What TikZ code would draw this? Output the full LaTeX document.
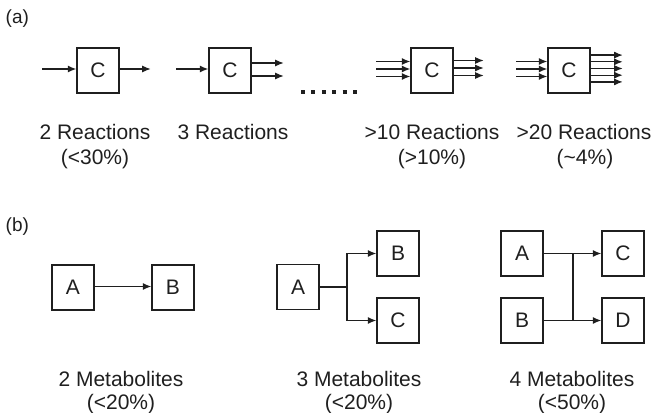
\documentclass[tikz,border=0pt]{standalone}
\usepackage{fontspec}
\setmainfont{Liberation Sans}
\usetikzlibrary{arrows.meta}
\definecolor{ink}{gray}{0.12}
\begin{document}
\begin{tikzpicture}[x=1pt,y=-1pt,
  every node/.style={text=ink},
  box/.style={draw=ink, line width=1.4pt, minimum width=42pt, minimum height=45pt,
    inner sep=0pt, font=\fontsize{21}{25}\selectfont},
  flow/.style={draw=ink, line width=1.2pt, -{Latex[length=8.5pt,width=7pt]}},
  wire/.style={draw=ink, line width=1.2pt},
  lbl/.style={anchor=base, inner sep=0pt, font=\fontsize{21}{25}\selectfont},
  panel/.style={anchor=base west, inner sep=0pt, font=\fontsize{19}{23}\selectfont},
]
\useasboundingbox (0,0) rectangle (655,412);

% ---------- (a) reactions per compound ----------
\node[panel] (pa) at (5.5,24) {(a)};

\node[box] (c1) at (98,70.5)  {C};
\node[box] (c2) at (230,70.5) {C};
\node[box] (c3) at (432,70.5) {C};
\node[box] (c4) at (569,70.5) {C};

% one in, one out
\draw[flow] ([shift={(-34,-1.5)}]c1.west) -- ([shift={(0,-1.5)}]c1.west);
\draw[flow] ([shift={(0,-1.5)}]c1.east) -- ([shift={(31,-1.5)}]c1.east);

% one in, two out
\draw[flow] ([shift={(-32,-1.5)}]c2.west) -- ([shift={(0,-1.5)}]c2.west);
\foreach \dy in {-6.5,6.5}
  \draw[flow] ([shift={(0,\dy-1)}]c2.east) -- ([shift={(32,\dy-1)}]c2.east);

% gap marker
\draw[ink, line width=4pt, dash pattern=on 4pt off 6.4pt] (301,92) -- (360,92);

% three in, three out
\foreach \dy in {-7.5,0,7.5} {
  \draw[flow] ([shift={(-34,\dy-1.5)}]c3.west) -- ([shift={(0,\dy-1.5)}]c3.west);
  \draw[flow] ([shift={(0,\dy-2.5)}]c3.east) -- ([shift={(30,\dy-2.5)}]c3.east);
}

% three in, five out
\foreach \dy in {-7.5,0,7.5}
  \draw[flow] ([shift={(-31,\dy-1.5)}]c4.west) -- ([shift={(0,\dy-1.5)}]c4.west);
\foreach \dy in {-13.4,-6.7,0,6.7,13.4}
  \draw[flow] ([shift={(0,\dy-2)}]c4.east) -- ([shift={(32,\dy-2)}]c4.east);

\node[lbl] (r1) at (95,139)  {2 Reactions};
\node[lbl] (p1) at (95,164)  {(<30\%)};
\node[lbl] (r2) at (233,139) {3 Reactions};
\node[lbl] (r3) at (432,139) {>10 Reactions};
\node[lbl] (p3) at (432,164) {(>10\%)};
\node[lbl] (r4) at (584,139) {>20 Reactions};
\node[lbl] (p4) at (585,164) {(\textasciitilde4\%)};

% ---------- (b) metabolites per reaction ----------
\node[panel] (pb) at (5.5,231) {(b)};

% two metabolites
\node[box] (a1) at (73,287.5)  {A};
\node[box] (b1) at (173,287.5) {B};
\draw[flow] ([shift={(0,-1)}]a1.east) -- ([shift={(0,-1)}]b1.west);

% three metabolites
\node[box] (a2) at (298,287) {A};
\node[box] (b2) at (398,253.5) {B};
\node[box] (c5) at (398,320.5) {C};
\coordinate (j2) at (347,287);
\draw[wire] (a2.east) -- (j2);
\draw[flow] (j2) |- (b2.west);
\draw[flow] (j2) |- (c5.west);

% four metabolites
\node[box] (a3) at (522,253.5) {A};
\node[box] (b3) at (522,320.5) {B};
\node[box] (c6) at (623,253.5) {C};
\node[box] (d3) at (623,320.5) {D};
\coordinate (j3) at (573,287);
\draw[flow] (a3.east) -- (c6.west);
\draw[flow] (b3.east) -- (d3.west);
\draw[wire] (j3 |- a3.east) -- (j3 |- b3.east);

\node[lbl] (m1) at (121,386) {2 Metabolites};
\node[lbl] (q1) at (121,409) {(<20\%)};
\node[lbl] (m2) at (359,386) {3 Metabolites};
\node[lbl] (q2) at (359,409) {(<20\%)};
\node[lbl] (m3) at (572,386) {4 Metabolites};
\node[lbl] (q3) at (572,409) {(<50\%)};
\end{tikzpicture}
\end{document}
